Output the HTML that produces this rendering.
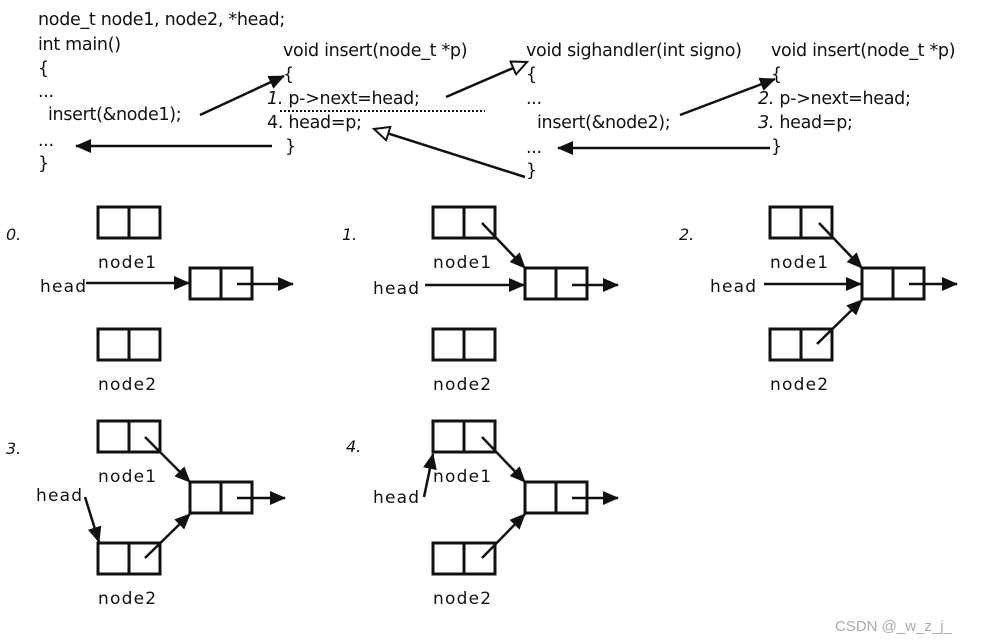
<!DOCTYPE html>
<html><head><meta charset="utf-8"><style>
html,body{margin:0;padding:0;background:#fff;}
svg{display:block;}
.c{font-family:"DejaVu Sans","Liberation Sans",sans-serif;font-size:17.5px;fill:#111;letter-spacing:-0.3px;}
.n{font-family:"DejaVu Sans","Liberation Sans",sans-serif;font-size:17px;fill:#111;letter-spacing:1.2px;}
.i{font-family:"DejaVu Sans","Liberation Sans",sans-serif;font-size:16px;font-style:italic;fill:#111;}
.b{fill:none;stroke:#111;stroke-width:3;}
.a{stroke:#111;stroke-width:2.5;fill:none;}
</style></head><body>
<svg width="984" height="641" viewBox="0 0 984 641" xmlns="http://www.w3.org/2000/svg">
<defs>
<marker id="F" markerWidth="16" markerHeight="14" refX="15" refY="7" orient="auto" markerUnits="userSpaceOnUse" viewBox="0 0 16 14"><path d="M0,0 L16,7 L0,14 z" fill="#111"/></marker>
<marker id="h" markerWidth="18" markerHeight="16" refX="16" refY="8" orient="auto" markerUnits="userSpaceOnUse" viewBox="0 0 18 16"><path d="M1,1 L16,8 L1,15 z" fill="#fff" stroke="#111" stroke-width="2"/></marker>
<g id="bx"><rect class="b" x="0" y="0" width="62" height="31"/><line class="b" x1="31" y1="0" x2="31" y2="31"/></g>
</defs>

<g class="c">
<text x="38" y="25">node_t node1, node2, *head;</text>
<text x="38" y="50">int main()</text>
<text x="38" y="74">{</text>
<text x="38" y="97">...</text>
<text x="48" y="120">insert(&amp;node1);</text>
<text x="38" y="146">...</text>
<text x="38" y="169">}</text>

<text x="283" y="56">void insert(node_t *p)</text>
<text x="283" y="80">{</text>
<text x="267" y="104"><tspan font-style="italic">1.</tspan>  p-&gt;next=head;</text>
<text x="267" y="128">4.  head=p;</text>
<text x="285" y="152">}</text>

<text x="526" y="56">void sighandler(int signo)</text>
<text x="526" y="80">{</text>
<text x="526" y="104">...</text>
<text x="537" y="128">insert(&amp;node2);</text>
<text x="526" y="153">...</text>
<text x="526" y="176">}</text>

<text x="771" y="56">void insert(node_t *p)</text>
<text x="771" y="80">{</text>
<text x="758" y="104"><tspan font-style="italic">2.</tspan>  p-&gt;next=head;</text>
<text x="758" y="128"><tspan font-style="italic">3.</tspan>  head=p;</text>
<text x="771" y="152">}</text>
</g>
<line x1="280" y1="111" x2="485" y2="111" stroke="#111" stroke-width="2" stroke-dasharray="2,2"/>

<line class="a" x1="200" y1="115" x2="284" y2="76" marker-end="url(#F)"/>
<line class="a" x1="272" y1="146" x2="76" y2="146" marker-end="url(#F)"/>
<line class="a" x1="446" y1="97" x2="527" y2="62" marker-end="url(#h)"/>
<line class="a" x1="525" y1="177" x2="374" y2="129" marker-end="url(#h)"/>
<line class="a" x1="680" y1="115" x2="775" y2="79" marker-end="url(#F)"/>
<line class="a" x1="770" y1="148" x2="558" y2="148" marker-end="url(#F)"/>

<g>
<text class="i" x="6" y="240">0.</text>
<use href="#bx" x="98" y="207"/><use href="#bx" x="190" y="268"/><use href="#bx" x="98" y="329"/>
<text class="n" x="98" y="268">node1</text><text class="n" x="98" y="390">node2</text>
<text class="n" x="40" y="292">head</text>
<line class="a" x1="86" y1="283" x2="189" y2="283" marker-end="url(#F)"/>
<line class="a" x1="237" y1="284" x2="293" y2="284" marker-end="url(#F)"/>
</g>
<g transform="translate(335,0)">
<text class="i" x="7" y="240">1.</text>
<use href="#bx" x="98" y="207"/><use href="#bx" x="190" y="268"/><use href="#bx" x="98" y="329"/>
<text class="n" x="98" y="268">node1</text><text class="n" x="98" y="390">node2</text>
<text class="n" x="38" y="294">head</text>
<line class="a" x1="90" y1="285" x2="189" y2="285" marker-end="url(#F)"/>
<line class="a" x1="237" y1="285" x2="283" y2="285" marker-end="url(#F)"/>
<line class="a" x1="147" y1="223" x2="190" y2="268" marker-end="url(#F)"/>
</g>
<g transform="translate(672,0)">
<text class="i" x="7" y="240">2.</text>
<use href="#bx" x="98" y="207"/><use href="#bx" x="190" y="268"/><use href="#bx" x="98" y="329"/>
<text class="n" x="98" y="268">node1</text><text class="n" x="98" y="390">node2</text>
<text class="n" x="38" y="292">head</text>
<line class="a" x1="92" y1="284" x2="189" y2="284" marker-end="url(#F)"/>
<line class="a" x1="237" y1="284" x2="285" y2="284" marker-end="url(#F)"/>
<line class="a" x1="147" y1="223" x2="190" y2="268" marker-end="url(#F)"/>
<line class="a" x1="145" y1="344" x2="190" y2="300" marker-end="url(#F)"/>
</g>
<g transform="translate(0,214)">
<text class="i" x="6" y="240">3.</text>
<use href="#bx" x="98" y="207"/><use href="#bx" x="190" y="268"/><use href="#bx" x="98" y="329"/>
<text class="n" x="98" y="268">node1</text><text class="n" x="98" y="390">node2</text>
<text class="n" x="36" y="287">head</text>
<line class="a" x1="85" y1="283" x2="99" y2="328" marker-end="url(#F)"/>
<line class="a" x1="237" y1="284" x2="285" y2="284" marker-end="url(#F)"/>
<line class="a" x1="145" y1="223" x2="190" y2="268" marker-end="url(#F)"/>
<line class="a" x1="145" y1="344" x2="190" y2="300" marker-end="url(#F)"/>
</g>
<g transform="translate(335,214)">
<text class="i" x="11" y="238">4.</text>
<use href="#bx" x="98" y="207"/><use href="#bx" x="190" y="268"/><use href="#bx" x="98" y="329"/>
<text class="n" x="98" y="268">node1</text><text class="n" x="98" y="390">node2</text>
<text class="n" x="38" y="289">head</text>
<line class="a" x1="89" y1="283" x2="98" y2="240" marker-end="url(#F)"/>
<line class="a" x1="237" y1="284" x2="283" y2="284" marker-end="url(#F)"/>
<line class="a" x1="147" y1="223" x2="190" y2="268" marker-end="url(#F)"/>
<line class="a" x1="147" y1="344" x2="190" y2="300" marker-end="url(#F)"/>
</g>
<text x="835" y="631" font-family="Liberation Sans, sans-serif" font-size="15" fill="#aaa">CSDN @_w_z_j_</text>
</svg>
</body></html>
